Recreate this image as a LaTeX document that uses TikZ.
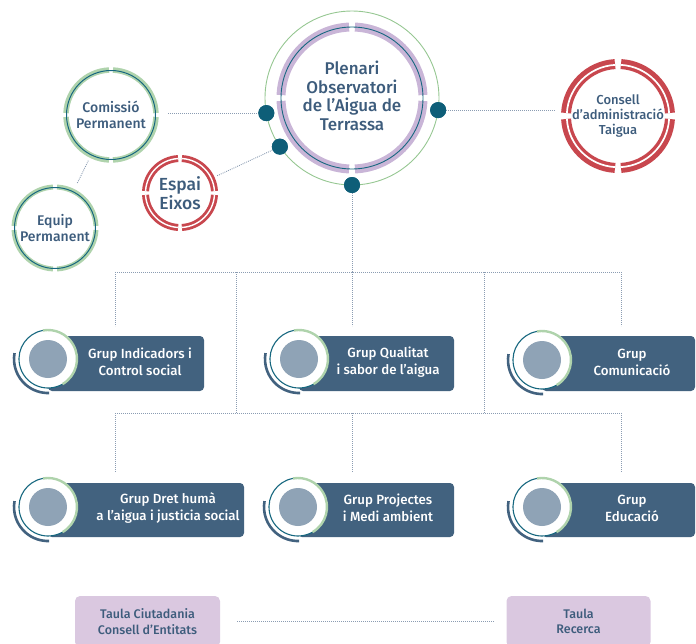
\documentclass[tikz,border=0pt]{standalone}
\usepackage{fontspec}
\setmainfont{Fira Sans}[UprightFont={* Medium}]
\usetikzlibrary{positioning}
\definecolor{slate}{HTML}{42627F}
\definecolor{inkblue}{HTML}{3D5C7C}
\definecolor{tealc}{HTML}{16677F}
\definecolor{dotc}{HTML}{0E5E78}
\definecolor{leaf}{HTML}{AFD3AC}
\definecolor{leafline}{HTML}{96C792}
\definecolor{wine}{HTML}{C8474E}
\definecolor{lilac}{HTML}{C9B5D7}
\definecolor{lilacbox}{HTML}{DAC8E0}
\definecolor{mist}{HTML}{8FA3B6}
\definecolor{linkc}{HTML}{8B9CB2}
% ring cut in four arcs: centre, radius, half gap (deg), style
\newcommand{\gapring}[4]{%
  \foreach \q in {0,90,180,270}
    \draw[#4] ([shift={(\q+#3:#2)}]#1) arc[start angle=\q+#3, end angle=\q+90-#3, radius=#2];
}

\begin{document}
\begin{tikzpicture}[x=1pt, y=-1pt,
  link/.style = {draw=linkc, line width=0.9pt, dash pattern=on 0.9pt off 1.1pt},
  ring/.style = {circle, inner sep=0pt, outer sep=0pt, align=center, text=inkblue},
  dot/.style = {circle, fill=dotc, minimum size=16pt, inner sep=0pt, outer sep=0pt},
  grupbox/.style = {rectangle, fill=slate, rounded corners=4pt, inner sep=0pt, outer sep=0pt},
  gruptext/.style = {text=white, align=center, font=\fontsize{13.3}{17}\selectfont},
  taula/.style = {rectangle, fill=lilacbox, rounded corners=5pt, align=center, text=inkblue,
    minimum height=51pt, font=\fontsize{12.5}{15.5}\selectfont},
  badge/.pic = {
    \fill[white] (0,0) circle[radius=29];
    \draw[tealc, line width=1.1pt] (-100:29) arc[start angle=-100, end angle=-300, radius=29];
    \draw[leaf, line width=2.4pt] (-300:29) arc[start angle=-300, end angle=-460, radius=29];
    \fill[mist] (0,0) circle[radius=19];
    \draw[slate, line width=2.6pt] (-170:34) arc[start angle=-170, end angle=-272, radius=34];
  }]
\useasboundingbox (0,0) rectangle (696,643);

% plenari
\node[ring, minimum size=174pt, draw=leafline, line width=0.9pt] (plen) at (352,98) {};
\node[text=inkblue, align=center, font=\fontsize{17}{18.5}\selectfont] (plen-t) at (352,96) {Plenari\\Observatori\\de l’Aigua de\\Terrassa};
\gapring{plen.center}{71}{2.4}{lilac, line width=9pt}
\draw[tealc, line width=0.9pt] (plen.center) circle[radius=71];

% side circles
\node[ring, minimum size=94pt, font=\fontsize{14}{16}\selectfont] (com) at (111,115) {Comissió\\Permanent};
\gapring{com.center}{45}{2.5}{leaf, line width=5.5pt}
\draw[tealc, line width=1pt] (com.center) circle[radius=44.5];

\node[ring, minimum size=86pt, font=\fontsize{14}{16}\selectfont] (equ) at (55,228) {Equip\\Permanent};
\gapring{equ.center}{41}{2.8}{leaf, line width=5pt}
\draw[tealc, line width=1pt] (equ.center) circle[radius=40.5];

\node[ring, minimum size=76pt, font=\fontsize{17.5}{19.5}\selectfont] (esp) at (180,193) {Espai\\Eixos};
\gapring{esp.center}{34.5}{3.2}{wine, line width=7pt}
\gapring{esp.center}{34.5}{3.2}{white, line width=1.4pt}

\node[ring, minimum size=114pt, font=\fontsize{13}{15}\selectfont] (con) at (618,116) {Consell\\d’administració\\Taigua};
\gapring{con.center}{52}{3.3}{wine, line width=10pt}
\gapring{con.center}{51.2}{3.3}{white, line width=1.7pt}

% groups, first row
\node[grupbox, minimum width=156pt, minimum height=55pt] (ind) at (126,363.5) {};
\pic at (48,359) {badge};
\node[gruptext] (ind-t) at (140,362) {Grup Indicadors i\\Control social};
\node[grupbox, minimum width=155pt, minimum height=55pt] (qua) at (376.5,363.5) {};
\pic at (299,359) {badge};
\node[gruptext] (qua-t) at (388,362) {Grup Qualitat\\i sabor de l’aigua};
\node[grupbox, minimum width=153pt, minimum height=55pt] (cmn) at (618.5,363.5) {};
\pic at (542,360) {badge};
\node[gruptext] (cmn-t) at (632,362) {Grup\\Comunicació};

% groups, second row
\node[grupbox, minimum width=196pt, minimum height=54pt] (dret) at (146,510) {};
\pic at (48,507) {badge};
\node[gruptext] (dret-t) at (168,508) {Grup Dret humà\\a l’aigua i justicia social};
\node[grupbox, minimum width=156pt, minimum height=54pt] (proj) at (376,510) {};
\pic at (298,507) {badge};
\node[gruptext] (proj-t) at (388,508) {Grup Projectes\\i Medi ambient};
\node[grupbox, minimum width=153pt, minimum height=54pt] (edu) at (618.5,510) {};
\pic at (542,507) {badge};
\node[gruptext] (edu-t) at (632,508) {Grup\\Educació};

% tables
\node[taula, minimum width=145pt] (ciu) at (147.5,621.5) {Taula Ciutadania\\Consell d’Entitats};
\node[taula, minimum width=144pt] (rec) at (578.5,621.5) {Taula\\Recerca};
\draw[link, shorten <=17pt, shorten >=13pt] (ciu) -- (rec);

% connectors
\coordinate (busA) at (115,272);
\coordinate (busB) at (621,272);
\coordinate (busC) at (115,413);
\coordinate (busD) at (621,413);
\coordinate (jL) at (236,272);
\coordinate (jR) at (484,272);
\node[dot] (dl) at (plen.190) {};
\node[dot] (dr) at (plen.352) {};
\node[dot] (dll) at (plen.214) {};
\node[dot] (dbot) at (plen.270) {};

\draw[link, shorten <=10pt] (dl.west -| com.east) -- (dl.west);
\draw[link, shorten <=4pt, shorten >=7pt] (com) -- (equ);
\draw[link, shorten <=3pt] (esp) -- (dll);
\draw[link, shorten >=6pt] (dr.east) -- (dr.east -| con.west);
\draw[link] (dbot) -- (dbot |- busA);
\draw[link] (busA) -- (busB);
\draw[link] (busC) -- (busD);
\draw[link] (jL) -- (jL |- busC);
\draw[link] (jR) -- (jR |- busC);
\draw[link, shorten >=10pt] (busA) -- (busA |- ind.north);
\draw[link, shorten >=10pt] (dbot |- busA) -- (dbot |- qua.north);
\draw[link, shorten >=10pt] (busB) -- (busB |- cmn.north);
\draw[link, shorten >=11pt] (busC) -- (busC |- dret.north);
\draw[link, shorten >=11pt] (dbot |- busC) -- (dbot |- proj.north);
\draw[link, shorten >=11pt] (busD) -- (busD |- edu.north);
% dots on top of the lines
\node[dot] at (dl) {};
\node[dot] at (dr) {};
\node[dot] at (dll) {};
\node[dot] at (dbot) {};
\end{tikzpicture}
\end{document}
